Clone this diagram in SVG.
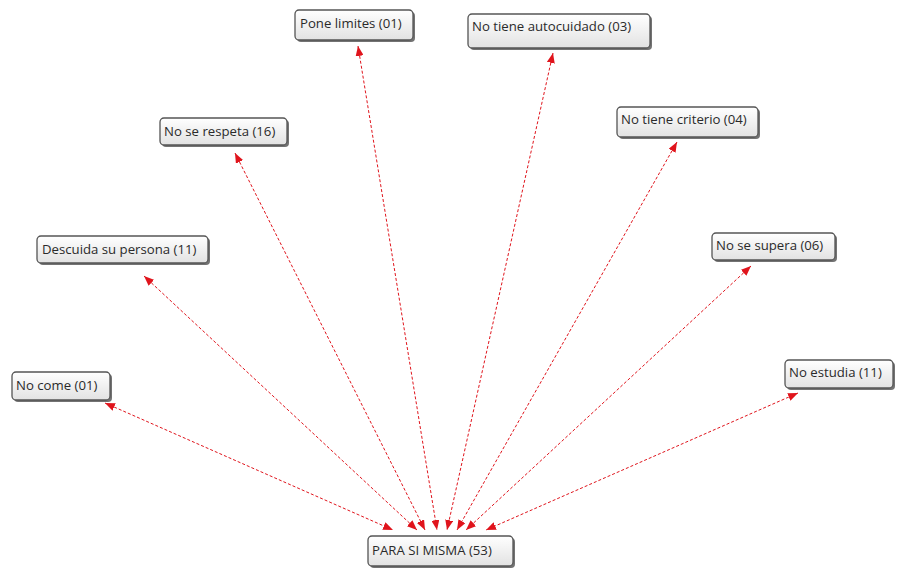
<svg xmlns="http://www.w3.org/2000/svg" width="899" height="571" viewBox="0 0 899 571">
<defs>
<linearGradient id="g" x1="0" y1="0" x2="0" y2="1">
<stop offset="0" stop-color="#ffffff"/>
<stop offset="1" stop-color="#e2e2e2"/>
</linearGradient>
<marker id="ah" viewBox="0 0 10 8" refX="10" refY="4" markerWidth="10" markerHeight="8" markerUnits="userSpaceOnUse" orient="auto-start-reverse">
<path d="M0,0 L10,4 L0,8 Z" fill="#e0141c"/>
</marker>
</defs>
<style>
.sh{fill:#444;opacity:0.75}
.bx{fill:url(#g);stroke:#555;stroke-width:1.3}
.t{font-family:"Open Sans","Liberation Sans",sans-serif;font-size:13.2px;fill:#2a2a2a}
.c{stroke:#e0141c;stroke-width:1;stroke-dasharray:3,2;fill:none;marker-start:url(#ah);marker-end:url(#ah)}
</style>
<rect width="899" height="571" fill="#ffffff"/>
<g id="connectors">
<line class="c" x1="105" y1="403" x2="393" y2="530"/>
<line class="c" x1="144" y1="276" x2="417" y2="530"/>
<line class="c" x1="235" y1="153" x2="425" y2="530"/>
<line class="c" x1="358" y1="46" x2="437" y2="530"/>
<line class="c" x1="553" y1="53" x2="447" y2="530"/>
<line class="c" x1="677" y1="142" x2="457" y2="530"/>
<line class="c" x1="751" y1="266" x2="466" y2="530"/>
<line class="c" x1="798" y1="393" x2="486" y2="530"/>
</g>
<g id="no-come">
<rect class="sh" x="14" y="374" width="98" height="28" rx="4"/>
<rect class="bx" x="12" y="372" width="98" height="28" rx="4"/>
<text class="t" x="16" y="390">No come (01)</text>
</g>
<g id="descuida">
<rect class="sh" x="39" y="238" width="171" height="27" rx="4"/>
<rect class="bx" x="37" y="236" width="171" height="27" rx="4"/>
<text class="t" x="42" y="254">Descuida su persona (11)</text>
</g>
<g id="no-se-respeta">
<rect class="sh" x="162" y="120" width="127" height="27" rx="4"/>
<rect class="bx" x="160" y="118" width="127" height="27" rx="4"/>
<text class="t" x="164" y="136">No se respeta (16)</text>
</g>
<g id="pone-limites">
<rect class="sh" x="297" y="12" width="118" height="30" rx="4"/>
<rect class="bx" x="295" y="10" width="118" height="30" rx="4"/>
<text class="t" x="300" y="28">Pone limites (01)</text>
</g>
<g id="no-tiene-autocuidado">
<rect class="sh" x="470" y="16" width="182" height="34" rx="4"/>
<rect class="bx" x="468" y="14" width="182" height="34" rx="4"/>
<text class="t" x="472" y="31">No tiene autocuidado (03)</text>
</g>
<g id="no-tiene-criterio">
<rect class="sh" x="619" y="109" width="141" height="30" rx="4"/>
<rect class="bx" x="617" y="107" width="141" height="30" rx="4"/>
<text class="t" x="621" y="124">No tiene criterio (04)</text>
</g>
<g id="no-se-supera">
<rect class="sh" x="714" y="235" width="123" height="27" rx="4"/>
<rect class="bx" x="712" y="233" width="123" height="27" rx="4"/>
<text class="t" x="716" y="250">No se supera (06)</text>
</g>
<g id="no-estudia">
<rect class="sh" x="787" y="362" width="108" height="28" rx="4"/>
<rect class="bx" x="785" y="360" width="108" height="28" rx="4"/>
<text class="t" x="789" y="377">No estudia (11)</text>
</g>
<g id="para-si-misma">
<rect class="sh" x="370" y="538" width="145" height="30" rx="4"/>
<rect class="bx" x="368" y="536" width="145" height="30" rx="4"/>
<text class="t" x="372" y="555">PARA SI MISMA (53)</text>
</g>
</svg>
